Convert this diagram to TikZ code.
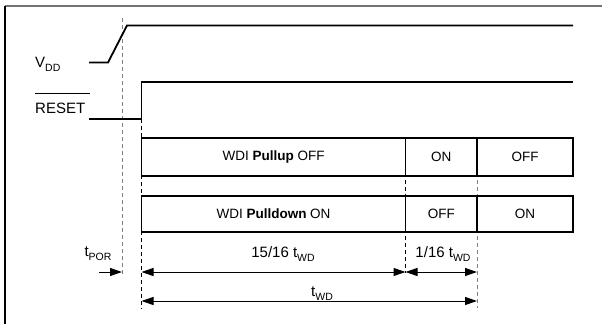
\documentclass[tikz,border=0pt]{standalone}
\usepackage{fontspec}
\setmainfont{Liberation Sans}
\usetikzlibrary{arrows.meta}
\newcommand\lowsub[1]{\raisebox{-0.55ex}{\fontsize{10.5}{11}\selectfont #1}}
\begin{document}
\begin{tikzpicture}[x=1pt,y=-1pt,
  sig/.style={line width=1.8pt,line join=miter},
  dashblk/.style={line width=0.9pt,dash pattern=on 4pt off 3pt},
  dashgry/.style={line width=1pt,dash pattern=on 4pt off 3pt,draw=black!50},
  seg/.style={draw,line width=1.3pt,inner sep=0pt,font=\fontsize{13.5}{14}\selectfont},
  dim/.style={line width=1pt,{Triangle[length=12pt,width=8pt]}-{Triangle[length=12pt,width=8pt]}},
  lbl/.style={inner sep=0pt,font=\fontsize{15}{16}\selectfont}]
\useasboundingbox (0,0) rectangle (602,324);
% frame
\draw[line width=1.5pt,black!55] (5,6) -- (602,6);
\draw[line width=1.5pt] (5,6) -- (5,324);
% dashed guides
\draw[dashgry] (122,18) -- (122,277);
\draw[dashblk] (141.5,119) -- (141.5,309);
\draw[dashblk] (405.5,138) -- (405.5,273);
\draw[dashgry] (477,138) -- (477,308);
% signals
\draw[sig] (89,62.5) -- (108,62.5) -- (127,25.5) -- (573,25.5);
\draw[sig] (89,119) -- (141.5,119) -- (141.5,82) -- (573,82);
% labels
\node[lbl,anchor=base west] (vdd) at (35,67) {V\lowsub{DD}};
\node[lbl,anchor=base west] (rst) at (35,113) {RESET};
\draw[line width=0.8pt] (35,93) -- (90,93);
% boxes row 1
\node[seg,minimum width=264pt,minimum height=38pt] (pu) at (273.5,157) {WDI \textbf{Pullup} OFF};
\node[seg,minimum width=71.5pt,minimum height=38pt] (puon) at (441.25,157) {ON};
\node[seg,minimum width=96pt,minimum height=38pt] (puoff) at (525,157) {OFF};
% boxes row 2
\node[seg,minimum width=264pt,minimum height=36pt] (pd) at (273.5,214) {WDI \textbf{Pulldown} ON};
\node[seg,minimum width=71.5pt,minimum height=36pt] (pdoff) at (441.25,214) {OFF};
\node[seg,minimum width=96pt,minimum height=36pt] (pdon) at (525,214) {ON};
% dimension coordinates
\coordinate (a0) at (141.5,272);
\coordinate (a1) at (405.5,272);
\coordinate (a2) at (477,272);
\coordinate (b0) at (141.5,301);
\coordinate (b1) at (477,301);
\coordinate (p0) at (99,272);
\coordinate (p1) at (122,272);
\draw[dim] (a0) -- (a1);
\draw[dim] (a1) -- (a2);
\draw[dim] (b0) -- (b1);
\draw[line width=1pt,-{Triangle[length=12pt,width=8pt]}] (p0) -- (p1);
\node[lbl,anchor=base] (l1) at (283,257) {15/16 t\lowsub{WD}};
\node[lbl,anchor=base] (l2) at (443,257) {1/16 t\lowsub{WD}};
\node[lbl,anchor=base] (l3) at (322,296) {t\lowsub{WD}};
\node[lbl,anchor=base] (l4) at (98,256) {t\lowsub{POR}};
\end{tikzpicture}
\end{document}
